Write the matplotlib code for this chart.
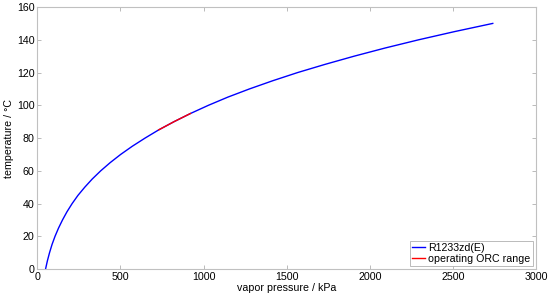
import matplotlib.pyplot as plt
import numpy as np

plt.rcParams['font.family'] = ['Liberation Sans', 'DejaVu Sans']

# saturation temperature (°C) and vapor pressure (kPa) of R1233zd(E)
temp_c = [0, 5, 10, 15, 20, 25, 30, 35, 40, 45, 50, 55, 60, 65, 70, 75,
          80, 85, 90, 95, 100, 105, 110, 115, 120, 125, 130, 135, 140, 145, 150]
pressure_kpa = [49, 60, 73, 88, 106, 127, 151, 178, 209, 244, 285, 330, 381, 438,
                501, 571, 648, 730, 822, 921, 1029, 1146, 1276, 1416, 1566, 1731,
                1906, 2093, 2294, 2510, 2740]

# operating ORC range (°C)
orc_low, orc_high = 85, 95

temp_c = np.array(temp_c)
pressure_kpa = np.array(pressure_kpa)
in_range = (temp_c >= orc_low) & (temp_c <= orc_high)

fig = plt.figure(figsize=(5.5, 2.97), dpi=100)
ax = fig.add_axes([0.068, 0.094, 0.9065, 0.8823])

ax.plot(pressure_kpa, temp_c, color='#0000ff', lw=1.0, label='R1233zd(E)')
ax.plot(pressure_kpa[in_range], temp_c[in_range], color='#ff0000', lw=1.0,
        label='operating ORC range')

ax.set_xlim(0, 3000)
ax.set_ylim(0, 160)
ax.set_xticks(np.arange(0, 3001, 500))
ax.set_yticks(np.arange(0, 161, 20))

ax.tick_params(direction='in', length=3, width=0.6, color='#b0b0b0',
               top=True, right=True, labelsize=7.7, pad=2)
for s in ax.spines.values():
    s.set_color('#c0c0c0')
    s.set_linewidth(0.8)

ax.set_xlabel('vapor pressure / kPa', fontsize=7.7, labelpad=1)
ax.set_ylabel('temperature / °C', fontsize=7.7, labelpad=2)

leg = ax.legend(loc='lower right', fontsize=7.7, fancybox=False, framealpha=1,
                handlelength=1.2, handletextpad=0.3, borderpad=0.2,
                labelspacing=0.05, borderaxespad=0.3)
leg.get_frame().set_edgecolor('#b0b0b0')
leg.get_frame().set_linewidth(0.6)

fig.savefig('out.png', dpi=100)
